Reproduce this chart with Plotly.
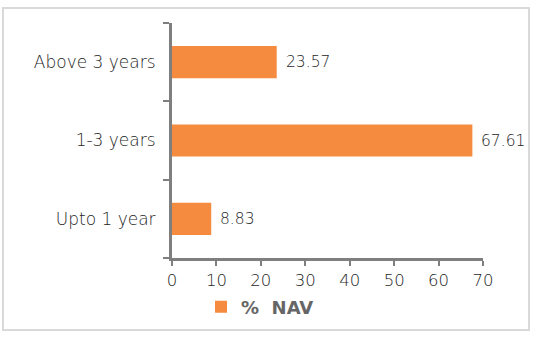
import plotly.graph_objects as go

categories = ["Upto 1 year", "1-3 years", "Above 3 years"]
values = [8.83, 67.61, 23.57]
labels = ["8.83", "67.61", "23.57"]
series_name = "%  NAV"
x_ticks = [0, 10, 20, 30, 40, 50, 60, 70]

orange = "#F58B3F"
axis_col = "#7F7F7F"
text_col = "#1E1E1E"
font_fam = "'DejaVu Sans', sans-serif"

fig = go.Figure()
fig.add_trace(go.Bar(
    y=categories, x=values, orientation="h", name=series_name,
    marker=dict(color=orange, line=dict(width=0)), width=0.41,
    showlegend=True,
))
for c, v, t in zip(categories, values, labels):
    fig.add_annotation(x=v, y=c, text=t, showarrow=False, xanchor="left",
                       xshift=7, font=dict(size=15.5, color=text_col, family=font_fam, weight=200))

fig.update_layout(
    width=536, height=338,
    margin=dict(l=172, r=53, t=23, b=80, autoexpand=False),
    paper_bgcolor="white", plot_bgcolor="white",
    font=dict(family=font_fam, color=text_col, size=16, weight=200),
    bargap=0.59,
    legend=dict(orientation="h", x=(260-172)/311, xanchor="center", y=-(307-258)/235, yanchor="middle",
                bgcolor="rgba(0,0,0,0)",
                font=dict(size=18, color="#666666", family=font_fam, weight="bold"),
                itemwidth=30),
    xaxis=dict(range=[0, 70], tickvals=x_ticks, showgrid=False, zeroline=False,
               showline=True, linecolor=axis_col, linewidth=3,
               ticks="outside", ticklen=5, tickwidth=2, tickcolor=axis_col,
               tickfont=dict(size=16.5, color=text_col, weight=200), fixedrange=True),
    yaxis=dict(showgrid=False, zeroline=False, showline=True, linecolor=axis_col,
               linewidth=3, ticks="outside", ticklen=6, tickwidth=2, tickcolor=axis_col,
               tickson="boundaries", ticklabelstandoff=10,
               tickfont=dict(size=17, color=text_col, weight=200), categoryorder="array",
               categoryarray=categories),
    shapes=[dict(type="rect", xref="paper", yref="paper", layer="below",
                 x0=-169/311, x1=(529-172)/311, y0=-(330-258)/235, y1=1+15/235,
                 line=dict(color="#D9D9D9", width=2))],
)
fig.write_html("out.html")
